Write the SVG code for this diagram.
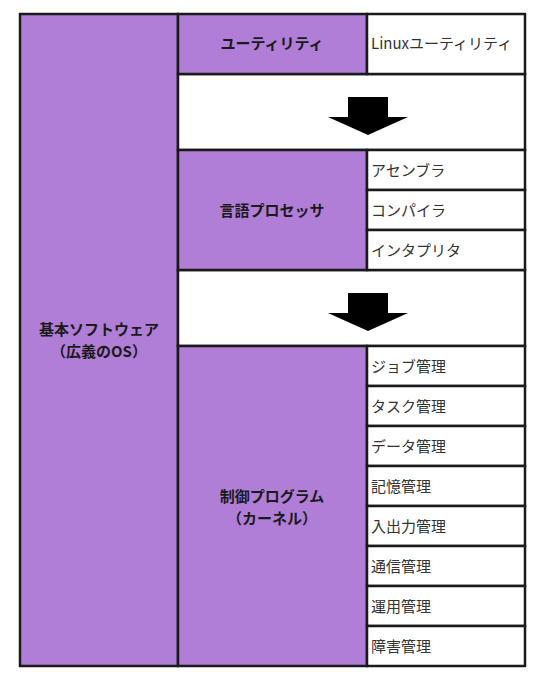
<svg xmlns="http://www.w3.org/2000/svg" width="546" height="686" viewBox="0 0 546 686">
<style>
.p{fill:#b07ed7;stroke:#1a1a1a;stroke-width:2.5}
.w{fill:#ffffff;stroke:#1a1a1a;stroke-width:2.5}
.b{font-family:"Noto Sans CJK JP","Noto Sans",sans-serif;font-size:15px;font-weight:bold;fill:#1a1a1a;text-anchor:middle}
.t{font-family:"Noto Sans CJK JP","Noto Sans",sans-serif;font-size:15px;fill:#333333}
.a{fill:#000000}
</style>
<rect width="546" height="686" fill="#ffffff"/>
<g id="base">
<rect class="p" x="20" y="14" width="158" height="652"/>
<text class="b" x="99" y="335">基本ソフトウェア</text>
<text class="b" x="99" y="357">（広義のOS）</text>
</g>
<g id="gap1"><rect class="w" x="178" y="74" width="347" height="76"/></g>
<g id="gap2"><rect class="w" x="178" y="270" width="347" height="76"/></g>
<g id="utility">
<rect class="p" x="178" y="14" width="189" height="60"/>
<text class="b" x="272" y="49">ユーティリティ</text>
</g>
<g id="linux">
<rect class="w" x="367" y="14" width="158" height="60"/>
<text class="t" x="371" y="49">Linuxユーティリティ</text>
</g>
<g id="lang">
<rect class="p" x="178" y="150" width="189" height="120"/>
<text class="b" x="272" y="216">言語プロセッサ</text>
</g>
<g id="asm"><rect class="w" x="367" y="150" width="158" height="40"/><text class="t" x="371" y="176">アセンブラ</text></g>
<g id="compiler"><rect class="w" x="367" y="190" width="158" height="40"/><text class="t" x="371" y="216">コンパイラ</text></g>
<g id="interp"><rect class="w" x="367" y="230" width="158" height="40"/><text class="t" x="371" y="256">インタプリタ</text></g>
<g id="kernel">
<rect class="p" x="178" y="346" width="189" height="320"/>
<text class="b" x="272" y="502">制御プログラム</text>
<text class="b" x="272" y="524">（カーネル）</text>
</g>
<g id="job"><rect class="w" x="367" y="346" width="158" height="40"/><text class="t" x="371" y="372">ジョブ管理</text></g>
<g id="task"><rect class="w" x="367" y="386" width="158" height="40"/><text class="t" x="371" y="412">タスク管理</text></g>
<g id="data"><rect class="w" x="367" y="426" width="158" height="40"/><text class="t" x="371" y="452">データ管理</text></g>
<g id="mem"><rect class="w" x="367" y="466" width="158" height="40"/><text class="t" x="371" y="492">記憶管理</text></g>
<g id="io"><rect class="w" x="367" y="506" width="158" height="40"/><text class="t" x="371" y="532">入出力管理</text></g>
<g id="comm"><rect class="w" x="367" y="546" width="158" height="40"/><text class="t" x="371" y="572">通信管理</text></g>
<g id="ops"><rect class="w" x="367" y="586" width="158" height="40"/><text class="t" x="371" y="612">運用管理</text></g>
<g id="fault"><rect class="w" x="367" y="626" width="158" height="40"/><text class="t" x="371" y="652">障害管理</text></g>
<g id="connectors">
<polygon class="a" points="348,97 388,97 388,117 408,117 368,135 328,117 348,117"/>
<polygon class="a" points="348,293 388,293 388,313 408,313 368,331 328,313 348,313"/>
</g>
</svg>
